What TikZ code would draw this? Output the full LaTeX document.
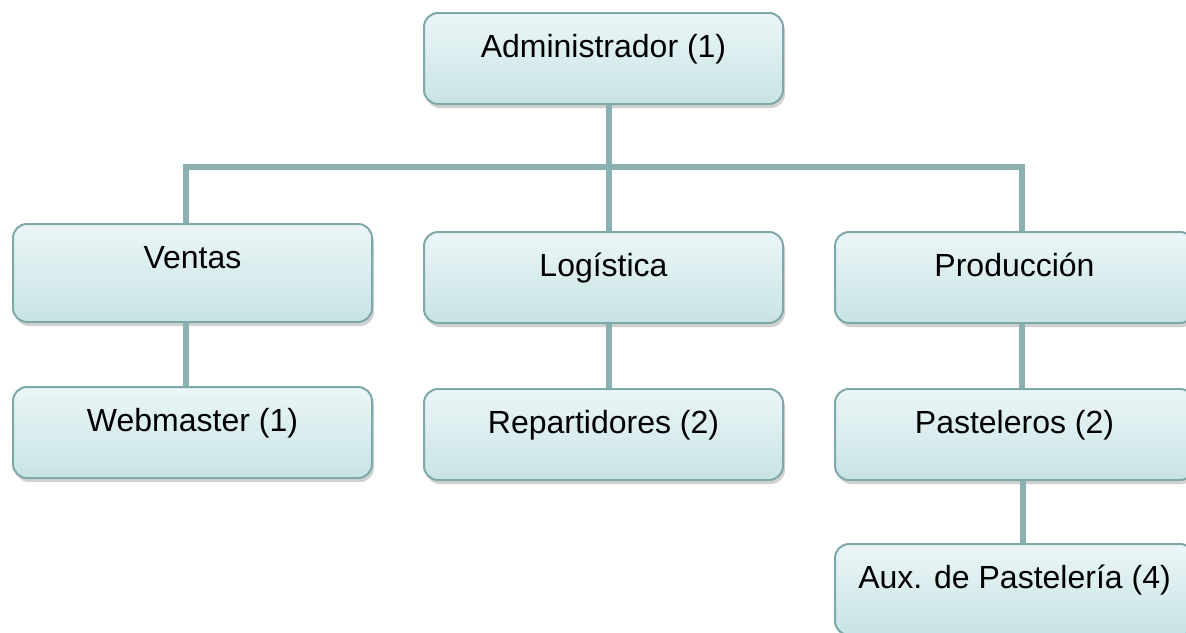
\documentclass[tikz,border=0pt]{standalone}
\usepackage{fontspec}
\setmainfont{Liberation Sans}
\usetikzlibrary{shadows}
\definecolor{boxtop}{HTML}{EBF6F7}
\definecolor{boxbot}{HTML}{C8E3E5}
\definecolor{boxline}{HTML}{7FA8AA}
\definecolor{linkcol}{HTML}{8AB0B0}

\begin{document}
\begin{tikzpicture}[x=0.5pt, y=-0.5pt,
  unit/.style={draw=boxline, line width=1pt, rounded corners=7pt,
    top color=boxtop, bottom color=boxbot, anchor=north west,
    minimum width=179.5pt, inner sep=0pt, text height=22pt, text depth=23.5pt,
    font=\fontsize{16}{19}\selectfont,
    drop shadow={shadow xshift=1pt, shadow yshift=-2pt, opacity=0.3, fill=black!60}},
  link/.style={draw=linkcol, line width=3pt}]
  \clip (0,0) rectangle (1186,632);

  % Units
  \node[unit] (admin) at (423,12) {Administrador (1)};
  \node[unit, text depth=27pt] (ventas) at (12,223) {Ventas};
  \node[unit] (logist) at (423,231) {Logística};
  \node[unit] (produc) at (834,231) {Producción};
  \node[unit] (webm) at (12,386) {Webmaster (1)};
  \node[unit] (repart) at (423,388) {Repartidores (2)};
  \node[unit] (pastel) at (834,388) {Pasteleros (2)};
  \node[unit] (auxpas) at (834,543) {Aux. de Pastelería (4)};

  % Links
  \draw[link] ([xshift=2.5pt]admin.south) -- ([xshift=2.5pt]logist.north);
  \draw[link] ([xshift=-3.5pt]ventas.north) -- ++(0,-56) -| ([xshift=3.5pt]produc.north);
  \draw[link] ([xshift=-3.5pt]ventas.south) -- ([xshift=-3.5pt]webm.north);
  \draw[link] ([xshift=2.5pt]logist.south) -- ([xshift=2.5pt]repart.north);
  \draw[link] ([xshift=3.5pt]produc.south) -- ([xshift=3.5pt]pastel.north);
  \draw[link] ([xshift=4pt]pastel.south) -- ([xshift=4pt]auxpas.north);
\end{tikzpicture}
\end{document}
